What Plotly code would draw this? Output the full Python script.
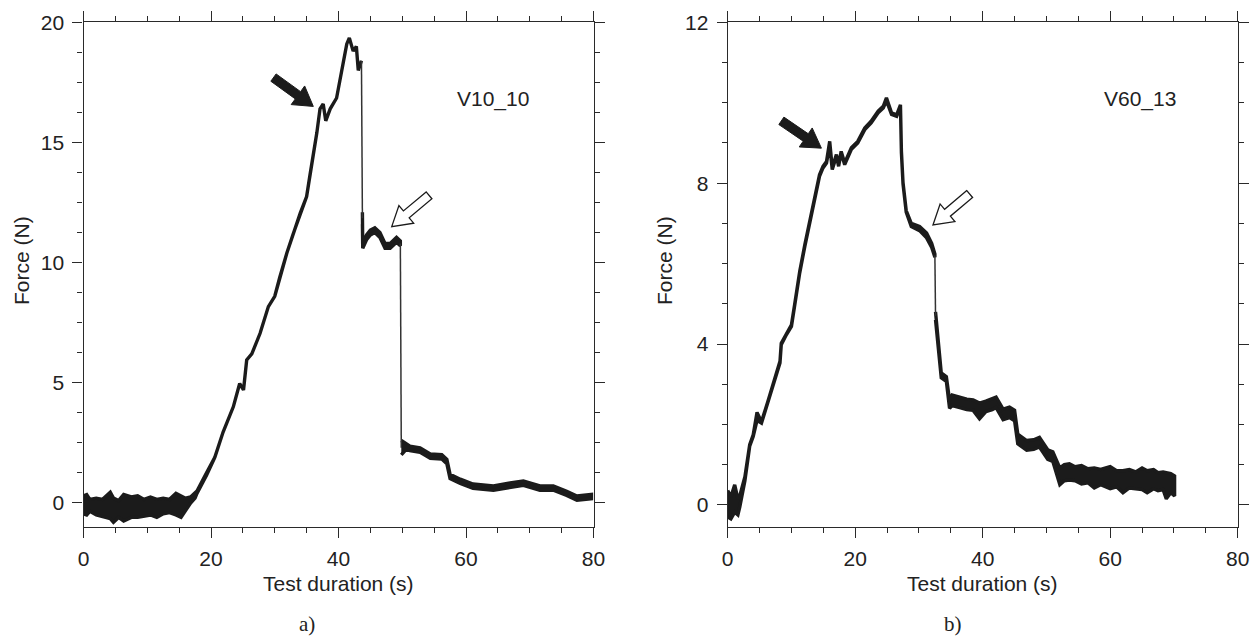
import plotly.graph_objects as go

# ---------------- data ----------------
# Panel a) V10_10 : time (s), upper / lower edge of the recorded force band (N)
a_t = [0, 0.5, 1, 2, 3, 4.2, 4.7, 5.5, 6.3, 7.5, 8.5, 9.5, 10.5, 11.5, 12.5, 13.5, 14.5, 15.3, 16.0, 16.8, 17.5,
       17.8, 19.3, 20.6, 21.9, 22.7, 23.5, 24.5, 25.1, 25.6, 26.4, 27.7, 29.0, 30.0, 30.8, 31.9, 32.9, 34.0,
       35.0, 35.5, 36.0, 36.6, 37.1, 37.6, 38.0, 38.7, 39.7, 40.2, 40.8, 41.3, 41.7, 42.3, 42.8, 43.1, 43.6,
       43.75, 43.8, 44.4, 45.0, 45.7, 46.5, 47.3, 48.1, 49.1, 49.7,
       49.85, 50.7, 51.2, 52.8, 54.4, 56.2, 57.0, 57.5, 59.1, 61.1, 64.3, 66.9, 69.0, 71.6, 73.7, 75.8, 77.4, 79.7]
a_hi = [0.3, 0.35, 0.15, 0.2, 0.15, 0.45, 0.2, 0.1, 0.35, 0.25, 0.3, 0.15, 0.25, 0.15, 0.2, 0.15, 0.4, 0.3, 0.2, 0.25, 0.4,
        0.5, 1.25, 1.9, 2.95, 3.45, 4.0, 4.97, 4.7, 5.95, 6.2, 7.06, 8.17, 8.6, 9.4, 10.4, 11.2, 12.06,
        12.75, 13.6, 14.4, 15.4, 16.4, 16.6, 15.9, 16.4, 16.85, 17.6, 18.4, 19.1, 19.35, 18.8, 19.0, 18.0, 18.4,
        12.1, 10.8, 11.15, 11.35, 11.45, 11.25, 10.8, 10.8, 11.05, 10.9,
        2.6, 2.45, 2.36, 2.29, 2.04, 2.01, 1.81, 1.19, 0.99, 0.79, 0.71, 0.83, 0.91, 0.71, 0.71, 0.49, 0.29, 0.36]
a_lo = [-0.45, -0.5, -0.35, -0.5, -0.55, -0.65, -0.8, -0.6, -0.75, -0.6, -0.6, -0.55, -0.5, -0.6, -0.45, -0.4, -0.5, -0.6, -0.3, 0.0, 0.2,
        0.4, 1.15, 1.9, 2.95, 3.45, 4.0, 4.97, 4.7, 5.95, 6.2, 7.06, 8.17, 8.6, 9.4, 10.4, 11.2, 12.06,
        12.75, 13.6, 14.4, 15.4, 16.4, 16.6, 15.9, 16.4, 16.85, 17.6, 18.4, 19.1, 19.35, 18.8, 19.0, 18.0, 18.4,
        11.6, 10.6, 10.95, 11.15, 11.25, 11.05, 10.6, 10.6, 10.85, 10.7,
        2.0, 2.25, 2.18, 2.11, 1.86, 1.83, 1.63, 1.01, 0.81, 0.61, 0.53, 0.65, 0.73, 0.53, 0.53, 0.31, 0.11, 0.18]
a_jumps = [43.7, 49.78]          # abrupt force drops (s)

# Panel b) V60_13
b_t = [0, 0.5, 1.1, 1.6, 1.9, 2.7, 3.45, 4.0, 4.6, 5.3, 6.3, 7.4, 8.2, 8.4, 9.2, 10.0, 10.5, 11.3, 12.1, 12.9,
       13.6, 14.4, 14.95, 15.5, 16.0, 16.4, 17.05, 17.4, 17.8, 18.35, 19.4, 20.4, 21.5, 22.5, 23.6, 24.4, 24.9,
       25.7, 26.5, 27.1, 27.25, 27.5, 28.0, 28.8, 30.1, 31.2, 32.0, 32.5,
       32.6, 33.0, 33.5, 34.3, 34.8, 35.2, 36.4, 37.5, 38.5, 39.5, 40.5, 41.5, 42.1, 43.2, 44.2, 45.0, 45.5,
       46.9, 48.0, 48.9, 50.2, 51.0, 52.1, 52.8, 53.6, 54.5, 55.5, 56.5, 57.5, 58.5, 60.0, 61.0, 62.0, 63.0,
       64.0, 65.0, 65.8, 66.8, 67.5, 68.3, 68.8, 69.5, 70.1]
b_hi = [0.36, 0.2, 0.5, 0.15, 0.23, 0.7, 1.5, 1.74, 2.3, 2.07, 2.57, 3.15, 3.57, 4.02, 4.27, 4.48, 4.98, 5.81, 6.47, 7.05,
        7.63, 8.21, 8.42, 8.54, 9.04, 8.38, 8.71, 8.46, 8.79, 8.5, 8.88, 9.04, 9.37, 9.54, 9.79, 9.91, 10.12,
        9.75, 9.7, 9.95, 8.79, 8.02, 7.32, 7.0, 6.92, 6.76, 6.5, 6.24,
        4.8, 4.05, 3.28, 3.19, 2.6, 2.73, 2.68, 2.63, 2.61, 2.53, 2.58, 2.63, 2.68, 2.38, 2.43, 2.35, 1.76,
        1.6, 1.62, 1.68, 1.37, 1.32, 0.92, 1.0, 1.02, 0.95, 0.98, 0.9, 0.92, 0.88, 0.95, 0.85, 0.85, 0.88,
        0.82, 0.92, 0.85, 0.88, 0.8, 0.82, 0.8, 0.78, 0.72]
b_lo = [-0.3, -0.35, -0.18, -0.25, -0.05, 0.6, 1.46, 1.7, 2.1, 2.03, 2.53, 3.11, 3.53, 3.98, 4.23, 4.44, 4.94, 5.77, 6.43, 7.01,
        7.59, 8.17, 8.38, 8.5, 8.95, 8.34, 8.67, 8.42, 8.75, 8.46, 8.84, 9.0, 9.33, 9.5, 9.75, 9.87, 10.05,
        9.71, 9.66, 9.91, 8.75, 7.98, 7.28, 6.92, 6.82, 6.64, 6.4, 6.16,
        4.6, 3.87, 3.16, 3.07, 2.4, 2.47, 2.42, 2.37, 2.35, 2.14, 2.32, 2.37, 2.42, 2.12, 2.17, 2.09, 1.52,
        1.36, 1.38, 1.44, 1.13, 1.08, 0.5, 0.6, 0.62, 0.6, 0.52, 0.55, 0.42, 0.5, 0.4, 0.45, 0.3, 0.42,
        0.4, 0.38, 0.3, 0.4, 0.35, 0.38, 0.15, 0.3, 0.22]
b_jumps = [32.55]

# axis tick values
a_yticks = [0, 5, 10, 15, 20]
b_yticks = [0, 4, 8, 12]
x_ticks = [0, 20, 40, 60, 80]

# annotation arrows: (tip_x, tip_y, tail_x, tail_y, filled)
a_arrows = [(36.05, 16.5, 29.8, 17.7, True), (48.35, 11.5, 54.2, 12.8, False)]
b_arrows = [(14.7, 8.87, 8.42, 9.55, True), (32.2, 6.96, 37.96, 7.73, False)]

# ---------------- styling / geometry ----------------
OX, OY = 8, 8                 # page (body) offset of the figure inside the browser window
W, H = 1260 - OX, 637 - OY
INK = "#1b1b1b"
AX = "#2a2a2a"
FONT = "Liberation Sans, Arial, Helvetica, sans-serif"
FS = 21
px_l0, px_l1 = 83.5, 593.5     # window pixels of the panel frames
px_r0, px_r1 = 727.7, 1237.7
py_top, py_bot = 22.3, 527.0
a_yr = [-1, 20]
b_yr = [-0.55, 12]
xr = [0, 80]


def fx(p):   # window pixel -> paper x
    return (p - OX) / W


def fy(p):   # window pixel -> paper y
    return (H - (p - OY)) / H


fig = go.Figure()


def segments(t, jumps):
    idx = [0]
    for j in jumps:
        for i, v in enumerate(t):
            if v > j:
                idx.append(i)
                break
    idx.append(len(t))
    return [(idx[k], idx[k + 1]) for k in range(len(idx) - 1)]


def add_band(t, hi, lo, jumps, xa, ya):
    segs = segments(t, jumps)
    for (s, e) in segs:
        ts = t[s:e]
        fig.add_trace(go.Scatter(
            x=ts + ts[::-1], y=hi[s:e] + lo[s:e][::-1], mode="lines", fill="toself",
            fillcolor=INK, line=dict(color=INK, width=3.4), hoverinfo="skip",
            showlegend=False, xaxis=xa, yaxis=ya))
    for k in range(len(segs) - 1):
        e = segs[k][1] - 1
        s = segs[k + 1][0]
        fig.add_trace(go.Scatter(
            x=[t[e], t[s]], y=[(hi[e] + lo[e]) / 2, (hi[s] + lo[s]) / 2], mode="lines",
            line=dict(color="#333333", width=1.5), hoverinfo="skip", showlegend=False,
            xaxis=xa, yaxis=ya))


add_band(a_t, a_hi, a_lo, a_jumps, "x", "y")
add_band(b_t, b_hi, b_lo, b_jumps, "x2", "y2")


def arrow_path(tip_x, tip_y, tail_x, tail_y, sx, sy):
    # sx, sy: pixels per data unit
    dxp = (tip_x - tail_x) * sx
    dyp = -(tip_y - tail_y) * sy
    L = (dxp ** 2 + dyp ** 2) ** 0.5
    ux, uy = dxp / L, dyp / L
    nx, ny = -uy, ux
    w, hw, hl = 4.5, 11.5, 19.0
    tipp = (0.0, 0.0)
    tail = (-ux * L, -uy * L)
    base = (-ux * hl, -uy * hl)
    pts = [
        (tail[0] + nx * w, tail[1] + ny * w),
        (base[0] + nx * w, base[1] + ny * w),
        (base[0] + nx * hw, base[1] + ny * hw),
        tipp,
        (base[0] - nx * hw, base[1] - ny * hw),
        (base[0] - nx * w, base[1] - ny * w),
        (tail[0] - nx * w, tail[1] - ny * w),
    ]
    d = []
    for i, (px, py) in enumerate(pts):
        X = tip_x + px / sx
        Y = tip_y - py / sy
        d.append(("M" if i == 0 else "L") + f"{X:.4f},{Y:.4f}")
    return " ".join(d) + " Z"


sx_a = (px_l1 - px_l0) / (xr[1] - xr[0])
sy_a = (py_bot - py_top) / (a_yr[1] - a_yr[0])
sx_b = (px_r1 - px_r0) / (xr[1] - xr[0])
sy_b = (py_bot - py_top) / (b_yr[1] - b_yr[0])

for (tx, ty, lx, ly, filled) in a_arrows:
    fig.add_shape(type="path", path=arrow_path(tx, ty, lx, ly, sx_a, sy_a), xref="x", yref="y",
                  fillcolor=INK if filled else "white", line=dict(color=INK, width=1.3 if not filled else 1))
for (tx, ty, lx, ly, filled) in b_arrows:
    fig.add_shape(type="path", path=arrow_path(tx, ty, lx, ly, sx_b, sy_b), xref="x2", yref="y2",
                  fillcolor=INK if filled else "white", line=dict(color=INK, width=1.3 if not filled else 1))

common = dict(showline=True, linecolor=AX, linewidth=1.3, mirror="ticks", ticks="outside",
              ticklen=10, tickwidth=1.3, tickcolor=AX, showgrid=False, zeroline=False,
              automargin=False,
              tickfont=dict(family=FONT, size=FS, color="#222222"))

fig.update_layout(
    width=W, height=H, autosize=False,
    margin=dict(l=0, r=0, t=0, b=0, pad=0, autoexpand=False),
    paper_bgcolor="white", plot_bgcolor="white", showlegend=False,
    xaxis=dict(domain=[fx(px_l0), fx(px_l1)], range=xr, tickvals=x_ticks, anchor="y",
               minor=dict(dtick=5, ticks="outside", ticklen=5, tickwidth=1.2, tickcolor=AX),
               ticklabelstandoff=3, **common),
    yaxis=dict(domain=[fy(py_bot), fy(py_top)], range=a_yr, tickvals=a_yticks, anchor="x",
               minor=dict(tick0=0, dtick=1.25, ticks="outside", ticklen=5, tickwidth=1.2, tickcolor=AX),
               ticklabelstandoff=4, **common),
    xaxis2=dict(domain=[fx(px_r0), fx(px_r1)], range=xr, tickvals=x_ticks, anchor="y2",
                minor=dict(dtick=5, ticks="outside", ticklen=5, tickwidth=1.2, tickcolor=AX),
                ticklabelstandoff=3, **common),
    yaxis2=dict(domain=[fy(py_bot), fy(py_top)], range=b_yr, tickvals=b_yticks, anchor="x2",
                minor=dict(tick0=0, dtick=1, ticks="outside", ticklen=5, tickwidth=1.2, tickcolor=AX),
                ticklabelstandoff=4, **common),
)

txt = dict(family=FONT, size=FS, color="#222222")
serif = dict(family="Liberation Serif, Times New Roman, serif", size=21, color="#222222")
base = dict(xref="paper", yref="paper", showarrow=False, xanchor="center", yanchor="middle")
ann = [
    dict(text="V10_10", x=64.2, y=16.8, xref="x", yref="y", showarrow=False, font=txt,
         xanchor="center", yanchor="middle"),
    dict(text="V60_13", x=64.6, y=10.1, xref="x2", yref="y2", showarrow=False, font=txt,
         xanchor="center", yanchor="middle"),
    dict(text="Force (N)", x=fx(22), y=fy(261), textangle=-90, font=txt, **base),
    dict(text="Force (N)", x=fx(665), y=fy(261), textangle=-90, font=txt, **base),
    dict(text="Test duration (s)", x=fx((px_l0 + px_l1) / 2), y=fy(583), font=txt, **base),
    dict(text="Test duration (s)", x=fx((px_r0 + px_r1) / 2), y=fy(583), font=txt, **base),
    dict(text="a)", x=fx(307), y=fy(624), font=serif, **base),
    dict(text="b)", x=fx(953), y=fy(624), font=serif, **base),
]
fig.update_layout(annotations=ann)

fig.write_html("out.html")
